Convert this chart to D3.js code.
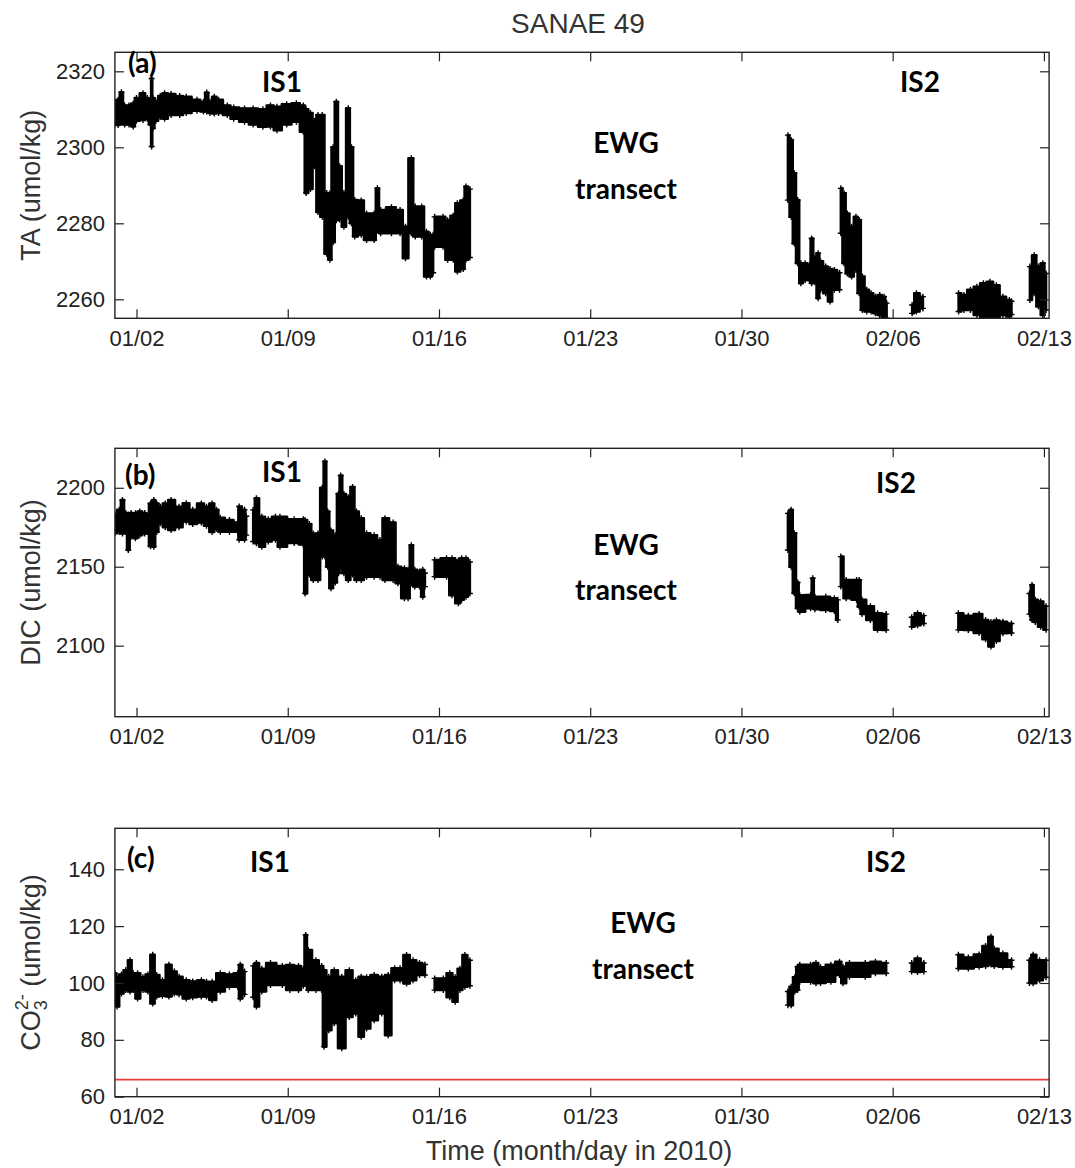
<!DOCTYPE html>
<html>
<head>
<meta charset="utf-8">
<script src="https://cdn.jsdelivr.net/npm/d3@7"></script>
<style>
  body { margin: 0; background: #fff; }
  svg { display: block; }
</style>
</head>
<body>
<div id="chart"></div>
<script>
// values; day = days since 2010-01-01 00:00
// each series is drawn as the vertical spread (low..high) of the dense marker cloud
// null low/high = gap in the record

const xTickDays = [1, 8, 15, 22, 29, 36, 43];
const xTickLabels = ['01/02', '01/09', '01/16', '01/23', '01/30', '02/06', '02/13'];

const taTicks = [2260, 2280, 2300, 2320];
const dicTicks = [2100, 2150, 2200];
const co3Ticks = [60, 80, 100, 120, 140];
const co3Threshold = 66;

const taDay = [0.00, 0.15, 0.30, 0.45, 0.65, 0.85, 1.00, 1.30, 1.50, 1.65, 1.70, 1.76, 1.90, 2.10, 2.30, 2.60,
  3.00, 3.30, 3.80, 4.10, 4.25, 4.40, 4.60, 4.80, 5.20, 5.50, 6.00, 6.40, 6.85, 7.20, 7.50, 7.95, 8.40, 8.72,
  8.85, 9.05, 9.25, 9.40, 9.60, 9.80, 9.95, 10.10, 10.25, 10.40, 10.60, 10.80, 10.95,
  11.10, 11.40, 11.65, 12.00, 12.15, 12.30, 12.80, 13.20, 13.45, 13.72, 13.90, 14.20, 14.42, 14.60, 14.73, 14.77,
  14.80, 15.19, 15.40, 15.66, 15.85, 16.12, 16.25, 16.43, 20,
  31.15, 31.30, 31.45, 31.60, 31.75, 31.95, 32.15, 32.25, 32.40, 32.55, 32.66, 32.90, 33.10, 33.30, 33.54, 33.57,
  33.60, 33.75, 33.90, 34.10, 34.30, 34.45, 34.60, 34.80, 35.00, 35.20, 35.40, 35.60, 35.72, 36,
  36.90, 37.10, 37.40, 38,
  39.05, 39.30, 39.60, 39.90, 40.20, 40.50, 40.80, 41.10, 41.40, 41.50, 42,
  42.35, 42.55, 42.75, 42.95, 43.10];
const taLow = [2306, 2305.9, 2306.5, 2306, 2306, 2305.5, 2307, 2307.2, 2307.5, 2306, 2300.2, 2305, 2307, 2308, 2307.5, 2308.5,
  2308.5, 2309, 2309.6, 2309.4, 2309.4, 2309, 2308.9, 2309, 2308.5, 2307.5, 2306.7, 2306, 2305.4, 2305.5, 2304.5, 2306, 2306.7, 2304.1,
  2288, 2289, 2295, 2283, 2281.7, 2272, 2270.4, 2275, 2280.8, 2281, 2279.1, 2281.7, 2280,
  2276.5, 2277, 2275.6, 2275.6, 2278.2, 2277.4, 2277.4, 2277.4, 2270.8, 2277.4, 2276.5, 2276.5, 2266, 2266, 2267, null,
  2273.8, 2273.8, 2270.4, 2270.4, 2267.3, 2268, 2270.4, 2271, null,
  2286.1, 2281.7, 2274.7, 2269.5, 2264.2, 2265.1, 2265, 2264.2, 2264.5, 2260.3, 2262.5, 2261.6, 2259.4, 2262.5, 2262.5, null,
  2277.4, 2269.5, 2266.8, 2266, 2267.7, 2261.6, 2257.2, 2256.8, 2256.8, 2256.3, 2255.9, 2255, 2255, null,
  2256.3, 2256.8, 2257.6, null,
  2256.8, 2257.2, 2257.2, 2255.9, 2255, 2255.4, 2255, 2255.9, 2255.5, 2256, null,
  2259.8, 2261.6, 2258.1, 2255.9, 2257.2];
const taHigh = [2311.6, 2312.5, 2314.5, 2311, 2311, 2311.5, 2313, 2314.2, 2313, 2312, 2318.1, 2313, 2312, 2313.5, 2314.2, 2314,
  2313.5, 2313.3, 2312.5, 2312, 2314.4, 2312, 2313.3, 2312.5, 2311, 2310.5, 2310.2, 2310.2, 2310, 2311, 2310.7, 2311.3, 2311.6, 2311,
  2310, 2309, 2307, 2308.5, 2308.5, 2288, 2287.9, 2300, 2312, 2295, 2288, 2310.3, 2300,
  2286.1, 2286, 2282.6, 2282.6, 2289.2, 2283.5, 2284.2, 2283.5, 2279.1, 2297.1, 2284.4, 2284.4, 2277.8, 2277, 2277, null,
  2281.7, 2281.7, 2280.8, 2282, 2285.3, 2286, 2289.7, 2289, null,
  2303.2, 2301.9, 2293.2, 2286.1, 2269.5, 2269.5, 2269, 2276, 2271, 2272.1, 2270, 2268.6, 2268, 2267.7, 2267, null,
  2289.2, 2287.9, 2282.6, 2279.1, 2281.7, 2280.9, 2266, 2262.5, 2261.6, 2260.7, 2261.1, 2260.7, 2259, null,
  2258.5, 2261.6, 2260.7, null,
  2261.6, 2261.1, 2262.5, 2263.3, 2264.2, 2264.6, 2263.7, 2260.7, 2259.8, 2259.5, null,
  2268.6, 2271.6, 2268.6, 2269.5, 2266.8];

const dicDay = [0.00, 0.20, 0.35, 0.50, 0.62, 0.75, 0.95, 1.15, 1.38, 1.50, 1.65, 1.80, 1.93, 2.10, 2.33, 2.60,
  2.97, 3.30, 3.60, 4.00, 4.24, 4.50, 4.70, 4.88, 5.30, 5.68, 5.75, 6.00, 6.08, 6.20,
  6.40, 6.55, 6.80, 7.10, 7.43, 7.64, 8.30, 8.72, 8.80, 9.00, 9.18, 9.40, 9.60, 9.72, 9.85, 10.00, 10.20,
  10.35, 10.45, 10.60, 10.80, 11.00, 11.18, 11.40, 11.65, 12.00, 12.27, 12.50, 12.88, 13.10, 13.40, 13.57,
  13.72, 13.88, 14.10, 14.25, 14.35, 14.60,
  14.80, 15.35, 15.60, 15.90, 16.05, 16.25, 16.43, 20,
  31.15, 31.30, 31.45, 31.60, 31.70, 32.20, 32.30, 32.40, 32.90, 33.30, 33.46, 33.53,
  33.60, 33.85, 34.33, 34.45, 34.58, 34.97, 35.30, 35.70, 36,
  36.88, 37.15, 37.44, 38,
  39.04, 39.50, 40.00, 40.30, 40.55, 40.80, 41.10, 41.50, 42,
  42.33, 42.45, 42.60, 42.85, 43.10];
const dicLow = [2171.2, 2172, 2171, 2172, 2160.6, 2169, 2168, 2170, 2171, 2172, 2163, 2162.7, 2172, 2177.5, 2175, 2173.3,
  2175, 2178.6, 2177, 2178, 2176, 2172, 2174, 2172.2, 2172.2, 2172.2, 2167, 2167, 2170, null,
  2166, 2164.8, 2162.7, 2166, 2167, 2162.7, 2165, 2164, 2133.1, 2145, 2141.6, 2141.6, 2156.4, 2156.4, 2150, 2136.3, 2140,
  2145.8, 2150, 2145.8, 2141.6, 2145, 2141.6, 2141.6, 2143.7, 2143.7, 2143.7, 2141.6, 2141.6, 2139.5, 2130, 2130,
  2139.5, 2137.4, 2137.4, 2131, 2137.4, null,
  2143.7, 2143.7, 2132, 2126.8, 2129, 2131, 2133, null,
  2160.6, 2150, 2133.2, 2123.7, 2121.5, 2123.7, 2126.8, 2123, 2122.6, 2122, 2116.3, null,
  2137.4, 2130, 2129, 2124.7, 2120, 2116.3, 2110, 2109.9, null,
  2112, 2113, 2114, null,
  2110, 2109.9, 2108, 2104, 2099.4, 2103, 2107.8, 2108, null,
  2120, 2116.3, 2115, 2112, 2110];
const dicHigh = [2183, 2186, 2192.3, 2184, 2183, 2184, 2183.8, 2185, 2184, 2182, 2190, 2192.3, 2190, 2188, 2190, 2192.3,
  2188, 2190.2, 2186, 2190, 2188, 2190, 2186, 2181, 2179.6, 2178, 2188.1, 2186, 2182, null,
  2186, 2193.3, 2181.7, 2180, 2181.7, 2181.7, 2180, 2180, 2179.6, 2177, 2171, 2171, 2200, 2216.6, 2185, 2173, 2170,
  2196.2, 2207.8, 2196, 2194, 2200.5, 2185, 2180.7, 2171.2, 2170, 2166.9, 2180.7, 2178, 2150, 2149, 2148,
  2163.6, 2148, 2147, 2148, 2146, null,
  2154.3, 2155.4, 2155.4, 2154, 2155.4, 2155.4, 2153, null,
  2183.8, 2186, 2171.2, 2140, 2132, 2132.1, 2142.7, 2131, 2131, 2130, 2129, null,
  2156.4, 2141.6, 2141.6, 2141.6, 2129, 2125, 2120.5, 2120, null,
  2118, 2120.5, 2119, null,
  2120.5, 2119, 2120, 2116.3, 2115, 2116, 2115.2, 2114, null,
  2133, 2138.4, 2129, 2128, 2125];

const co3Day = [0.00, 0.10, 0.30, 0.50, 0.70, 0.85, 1.05, 1.30, 1.53, 1.75, 1.93, 2.20, 2.50, 2.75, 2.97, 3.30,
  3.60, 4.00, 4.24, 4.50, 4.88, 5.30, 5.68, 5.80, 6.00, 6.20,
  6.40, 6.55, 6.80, 7.20, 7.75, 8.10, 8.50, 8.72, 8.83, 8.95, 9.30, 9.57, 9.68, 9.90, 10.15, 10.50, 10.85,
  11.15, 11.40, 11.65, 12.00, 12.35, 12.65, 12.95, 13.20, 13.50, 13.80, 14.10, 14.35, 14.60,
  14.80, 15.20, 15.50, 15.75, 15.97, 16.20, 16.43, 20,
  31.15, 31.30, 31.47, 31.60, 31.70, 32.20, 32.45, 32.66, 33.14, 33.54, 33.70, 34.00, 34.73, 35.20, 35.70, 36,
  36.88, 37.15, 37.44, 38,
  39.04, 39.50, 40.00, 40.30, 40.55, 40.70, 41.10, 41.50, 42,
  42.33, 42.50, 42.80, 43.10];
const co3Low = [93.4, 91.7, 96.3, 97.5, 97, 97.5, 94.5, 97.5, 97, 92.8, 95.2, 95.5, 95.2, 96.3, 96, 94.5,
  95, 95.2, 95.2, 94, 97, 98.7, 98.7, 94.5, 96, null,
  95, 91.7, 97, 99.3, 99.3, 97.5, 97.5, 99, 103.4, 97.5, 97.5, 97.5, 77.6, 83.4, 85.8, 77, 88,
  89.3, 81.1, 84, 86.9, 89.3, 81.6, 101, 101, 99.8, 101, 102.8, 102.8, null,
  97.5, 97.5, 95, 93.4, 97.5, 98.7, 99, null,
  92.2, 92.2, 97, 97.5, 100.4, 100.4, 99.9, 100, 100.4, 102.8, 99.9, 102.2, 102.2, 103.4, 103.4, null,
  104, 103.9, 104, null,
  105.1, 105.1, 105.7, 106, 106.5, 106, 105.7, 105.7, null,
  100, 99.9, 101, 102];
const co3High = [103.4, 102, 103, 104.5, 108, 103.4, 103.4, 102, 103, 109.9, 102.8, 101, 106.4, 104, 102.2, 101,
  100.5, 101, 100.4, 100.4, 103.4, 103, 103.4, 106.4, 104, null,
  106, 107, 105, 107, 106, 106.3, 106, 105, 116.9, 111.6, 108, 106, 104.5, 102.2, 104.5, 102.2, 104.5,
  101, 102.2, 102, 102.8, 102.2, 102.8, 105.2, 105.2, 109.8, 108, 107, 106.5, null,
  101.6, 101.6, 103.4, 102, 105, 109.8, 108, null,
  97, 98.7, 102, 105.7, 106.4, 106.4, 107, 105.5, 106.4, 107.5, 105.7, 107, 107, 107.5, 107, null,
  107, 108.6, 107, null,
  109.9, 109, 110, 113, 116.3, 112, 110.4, 108, null,
  108, 109.9, 108, 108];

// ---- layout ----
const width = 1075, height = 1168;
const plotLeft = 114.9, plotRight = 1049.1;
const dayMax = 43.24;
const tickLen = 9;
const tickFont = '"Liberation Sans", Arial, sans-serif';
const noteFont = 'Lato, "Open Sans", sans-serif';

const svg = d3.select('#chart').append('svg')
  .attr('width', width)
  .attr('height', height);

svg.append('rect').attr('width', width).attr('height', height).attr('fill', '#fff');

const x = d3.scaleLinear().domain([0, dayMax]).range([plotLeft, plotRight]);

svg.append('text')
  .attr('x', 578).attr('y', 33)
  .attr('text-anchor', 'middle')
  .attr('font-family', tickFont).attr('font-size', 28)
  .attr('fill', '#333')
  .text('SANAE 49');

function styleAxis(g) {
  g.select('.domain').remove();
  g.selectAll('.tick line').attr('stroke', '#222').attr('stroke-width', 1.2);
  g.selectAll('.tick text').attr('font-family', tickFont).attr('font-size', 22).attr('fill', '#222');
}

function drawPanel(p) {
  const y = d3.scaleLinear().domain(p.domain).range([p.bottom, p.top]);
  const g = svg.append('g');

  g.append('clipPath').attr('id', 'clip-' + p.id)
    .append('rect')
    .attr('x', plotLeft).attr('y', p.top)
    .attr('width', plotRight - plotLeft).attr('height', p.bottom - p.top);

  const plot = g.append('g').attr('clip-path', `url(#clip-${p.id})`);
  const idx = d3.range(p.day.length);

  const area = d3.area()
    .defined(i => p.low[i] != null)
    .curve(d3.curveStep)
    .x(i => x(p.day[i]))
    .y0(i => y(p.low[i]))
    .y1(i => y(p.high[i]));

  plot.append('path')
    .datum(idx)
    .attr('d', area)
    .attr('fill', '#000')
    .attr('stroke', '#000')
    .attr('stroke-width', 2.5)
    .attr('stroke-linejoin', 'round');

  // '+' markers along the edges of the cloud
  const ends = idx.filter(i => p.low[i] != null)
    .flatMap(i => [[p.day[i], p.low[i]], [p.day[i], p.high[i]]]);
  plot.selectAll('path.mark')
    .data(ends)
    .join('path')
    .attr('class', 'mark')
    .attr('transform', d => `translate(${x(d[0])},${y(d[1])})`)
    .attr('d', 'M-3,0H3M0,-3V3')
    .attr('stroke', '#000')
    .attr('stroke-width', 1.4);

  if (p.threshold != null) {
    plot.append('line')
      .attr('x1', plotLeft).attr('x2', plotRight)
      .attr('y1', y(p.threshold)).attr('y2', y(p.threshold))
      .attr('stroke', '#ee3b3b')
      .attr('stroke-width', 1.8);
  }

  g.append('g')
    .attr('transform', `translate(0,${p.bottom})`)
    .call(d3.axisBottom(x).tickValues(xTickDays).tickFormat((d, i) => xTickLabels[i])
      .tickSizeInner(-tickLen).tickSizeOuter(0).tickPadding(12))
    .call(styleAxis);

  g.append('g')
    .attr('transform', `translate(0,${p.top})`)
    .call(d3.axisTop(x).tickValues(xTickDays).tickFormat('')
      .tickSizeInner(-tickLen).tickSizeOuter(0))
    .call(styleAxis);

  g.append('g')
    .attr('transform', `translate(${plotLeft},0)`)
    .call(d3.axisLeft(y).tickValues(p.ticks).tickFormat(d3.format('d'))
      .tickSizeInner(-tickLen).tickSizeOuter(0).tickPadding(10))
    .call(styleAxis);

  g.append('g')
    .attr('transform', `translate(${plotRight},0)`)
    .call(d3.axisRight(y).tickValues(p.ticks).tickFormat('')
      .tickSizeInner(-tickLen).tickSizeOuter(0))
    .call(styleAxis);

  g.append('rect')
    .attr('x', plotLeft).attr('y', p.top)
    .attr('width', plotRight - plotLeft).attr('height', p.bottom - p.top)
    .attr('fill', 'none')
    .attr('stroke', '#222')
    .attr('stroke-width', 1.4);

  // y axis title
  const label = g.append('text')
    .attr('transform', `translate(40,${(p.top + p.bottom) / 2}) rotate(-90)`)
    .attr('text-anchor', 'middle')
    .attr('font-family', tickFont).attr('font-size', 27)
    .attr('fill', '#333');
  p.label(label);

  // annotations
  p.notes.forEach(n => {
    g.append('text')
      .attr('x', n.x).attr('y', n.y)
      .attr('text-anchor', n.anchor || 'middle')
      .attr('font-family', noteFont).attr('font-weight', 700).attr('font-size', 28)
      .attr('fill', '#000')
      .text(n.text);
  });
}

drawPanel({
  id: 'ta', top: 52.3, bottom: 318.3, domain: [2255, 2325], ticks: taTicks,
  day: taDay, low: taLow, high: taHigh,
  label: t => t.text('TA (umol/kg)'),
  notes: [
    {text: '(a)', x: 128, y: 73, anchor: 'start'},
    {text: 'IS1', x: 282, y: 92},
    {text: 'IS2', x: 920, y: 92},
    {text: 'EWG', x: 626, y: 153},
    {text: 'transect', x: 626, y: 199}
  ]
});

drawPanel({
  id: 'dic', top: 448.3, bottom: 716.7, domain: [2055, 2225], ticks: dicTicks,
  day: dicDay, low: dicLow, high: dicHigh,
  label: t => t.text('DIC (umol/kg)'),
  notes: [
    {text: '(b)', x: 125, y: 485, anchor: 'start'},
    {text: 'IS1', x: 282, y: 482},
    {text: 'IS2', x: 896, y: 493},
    {text: 'EWG', x: 626, y: 555},
    {text: 'transect', x: 626, y: 600}
  ]
});

drawPanel({
  id: 'co3', top: 828.3, bottom: 1096.7, domain: [60, 154.4], ticks: co3Ticks,
  day: co3Day, low: co3Low, high: co3High, threshold: co3Threshold,
  label: t => {
    t.append('tspan').text('CO');
    t.append('tspan').attr('font-size', 18).attr('dy', 7).text('3');
    t.append('tspan').attr('font-size', 18).attr('dx', -10).attr('dy', -19).text('2-');
    t.append('tspan').attr('dy', 12).text(' (umol/kg)');
  },
  notes: [
    {text: '(c)', x: 127, y: 868, anchor: 'start'},
    {text: 'IS1', x: 270, y: 872},
    {text: 'IS2', x: 886, y: 872},
    {text: 'EWG', x: 643, y: 933},
    {text: 'transect', x: 643, y: 979}
  ]
});

svg.append('text')
  .attr('x', 579).attr('y', 1160)
  .attr('text-anchor', 'middle')
  .attr('font-family', tickFont).attr('font-size', 27)
  .attr('fill', '#333')
  .text('Time (month/day in 2010)');
</script>
</body>
</html>
